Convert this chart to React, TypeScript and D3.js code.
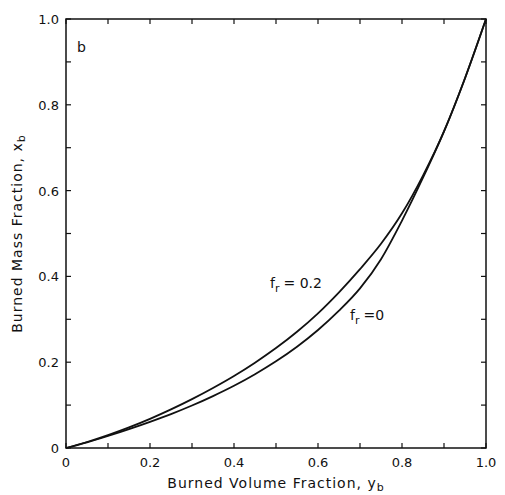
import React from "react";
import { scaleLinear, line, curveMonotoneX, range } from "d3";

// burned volume fraction (x) and burned mass fraction (y) for each curve
const volumeFraction = [0, 0.05, 0.1, 0.15, 0.2, 0.25, 0.3, 0.35, 0.4, 0.45, 0.5, 0.55, 0.6, 0.65, 0.7, 0.75, 0.8, 0.85, 0.9, 0.95, 1.0];
const massFr0 = [0, 0.013, 0.028, 0.044, 0.061, 0.079, 0.099, 0.121, 0.145, 0.172, 0.202, 0.236, 0.275, 0.32, 0.372, 0.44, 0.53, 0.63, 0.738, 0.862, 1.0];
const massFr02 = [0, 0.014, 0.03, 0.048, 0.068, 0.09, 0.114, 0.14, 0.168, 0.199, 0.233, 0.271, 0.314, 0.363, 0.417, 0.476, 0.547, 0.635, 0.738, 0.862, 1.0];

const xTickLabels = ["0", "0.2", "0.4", "0.6", "0.8", "1.0"];
const yTickLabels = ["0", "0.2", "0.4", "0.6", "0.8", "1.0"];

const W = 505;
const H = 495;
const left = 66;
const right = 486;
const top = 19;
const bottom = 448;
const ink = "#111";
const font = "'DejaVu Sans', sans-serif";

export default function App() {
  const x = scaleLinear().domain([0, 1]).range([left, right]);
  const y = scaleLinear().domain([0, 1]).range([bottom, top]);
  const minor = range(0, 11).map((i) => i / 10);

  const path = line<number>()
    .x((_, i) => x(volumeFraction[i]))
    .y((d) => y(d))
    .curve(curveMonotoneX);

  const tick = 5;

  return (
    <svg
      width={W}
      height={H}
      style={{ position: "absolute", left: 0, top: 0, background: "#fff" }}
      fontFamily={font}
    >
      <rect x={left} y={top} width={right - left} height={bottom - top} fill="none" stroke={ink} strokeWidth={1.5} />

      {/* inward ticks on all four sides */}
      <g stroke={ink} strokeWidth={1.2}>
        {minor.map((v) => (
          <g key={v}>
            <line x1={x(v)} x2={x(v)} y1={bottom} y2={bottom - tick} />
            <line x1={x(v)} x2={x(v)} y1={top} y2={top + tick} />
            <line x1={left} x2={left + tick} y1={y(v)} y2={y(v)} />
            <line x1={right} x2={right - tick} y1={y(v)} y2={y(v)} />
          </g>
        ))}
      </g>

      <g fontSize={13} fill={ink}>
        {xTickLabels.map((t) => (
          <text key={t} x={x(+t)} y={bottom + 19} textAnchor="middle">
            {t}
          </text>
        ))}
        {yTickLabels.map((t) => (
          <text key={t} x={left - 7} y={y(+t) + 5} textAnchor="end">
            {t}
          </text>
        ))}
      </g>

      <path d={path(massFr0) || ""} fill="none" stroke={ink} strokeWidth={1.8} />
      <path d={path(massFr02) || ""} fill="none" stroke={ink} strokeWidth={1.8} />

      <g fill={ink} fontSize={14}>
        <text x={77} y={52}>b</text>
        <text x={270} y={288}>
          f<tspan fontSize={11} dy={4}>r</tspan>
          <tspan dy={-4} dx={4}>= 0.2</tspan>
        </text>
        <text x={350} y={320}>
          f<tspan fontSize={11} dy={4}>r</tspan>
          <tspan dy={-4} dx={4}>=0</tspan>
        </text>
      </g>

      <text
        x={(left + right) / 2}
        y={488}
        textAnchor="middle"
        fontSize={14}
        letterSpacing={1}
        fill={ink}
      >
        Burned Volume Fraction, y<tspan fontSize={11} dy={3}>b</tspan>
      </text>
      <text
        transform={`translate(22,${(top + bottom) / 2}) rotate(-90)`}
        textAnchor="middle"
        fontSize={14}
        letterSpacing={1}
        fill={ink}
      >
        Burned Mass Fraction, x<tspan fontSize={11} dy={3}>b</tspan>
      </text>
    </svg>
  );
}
